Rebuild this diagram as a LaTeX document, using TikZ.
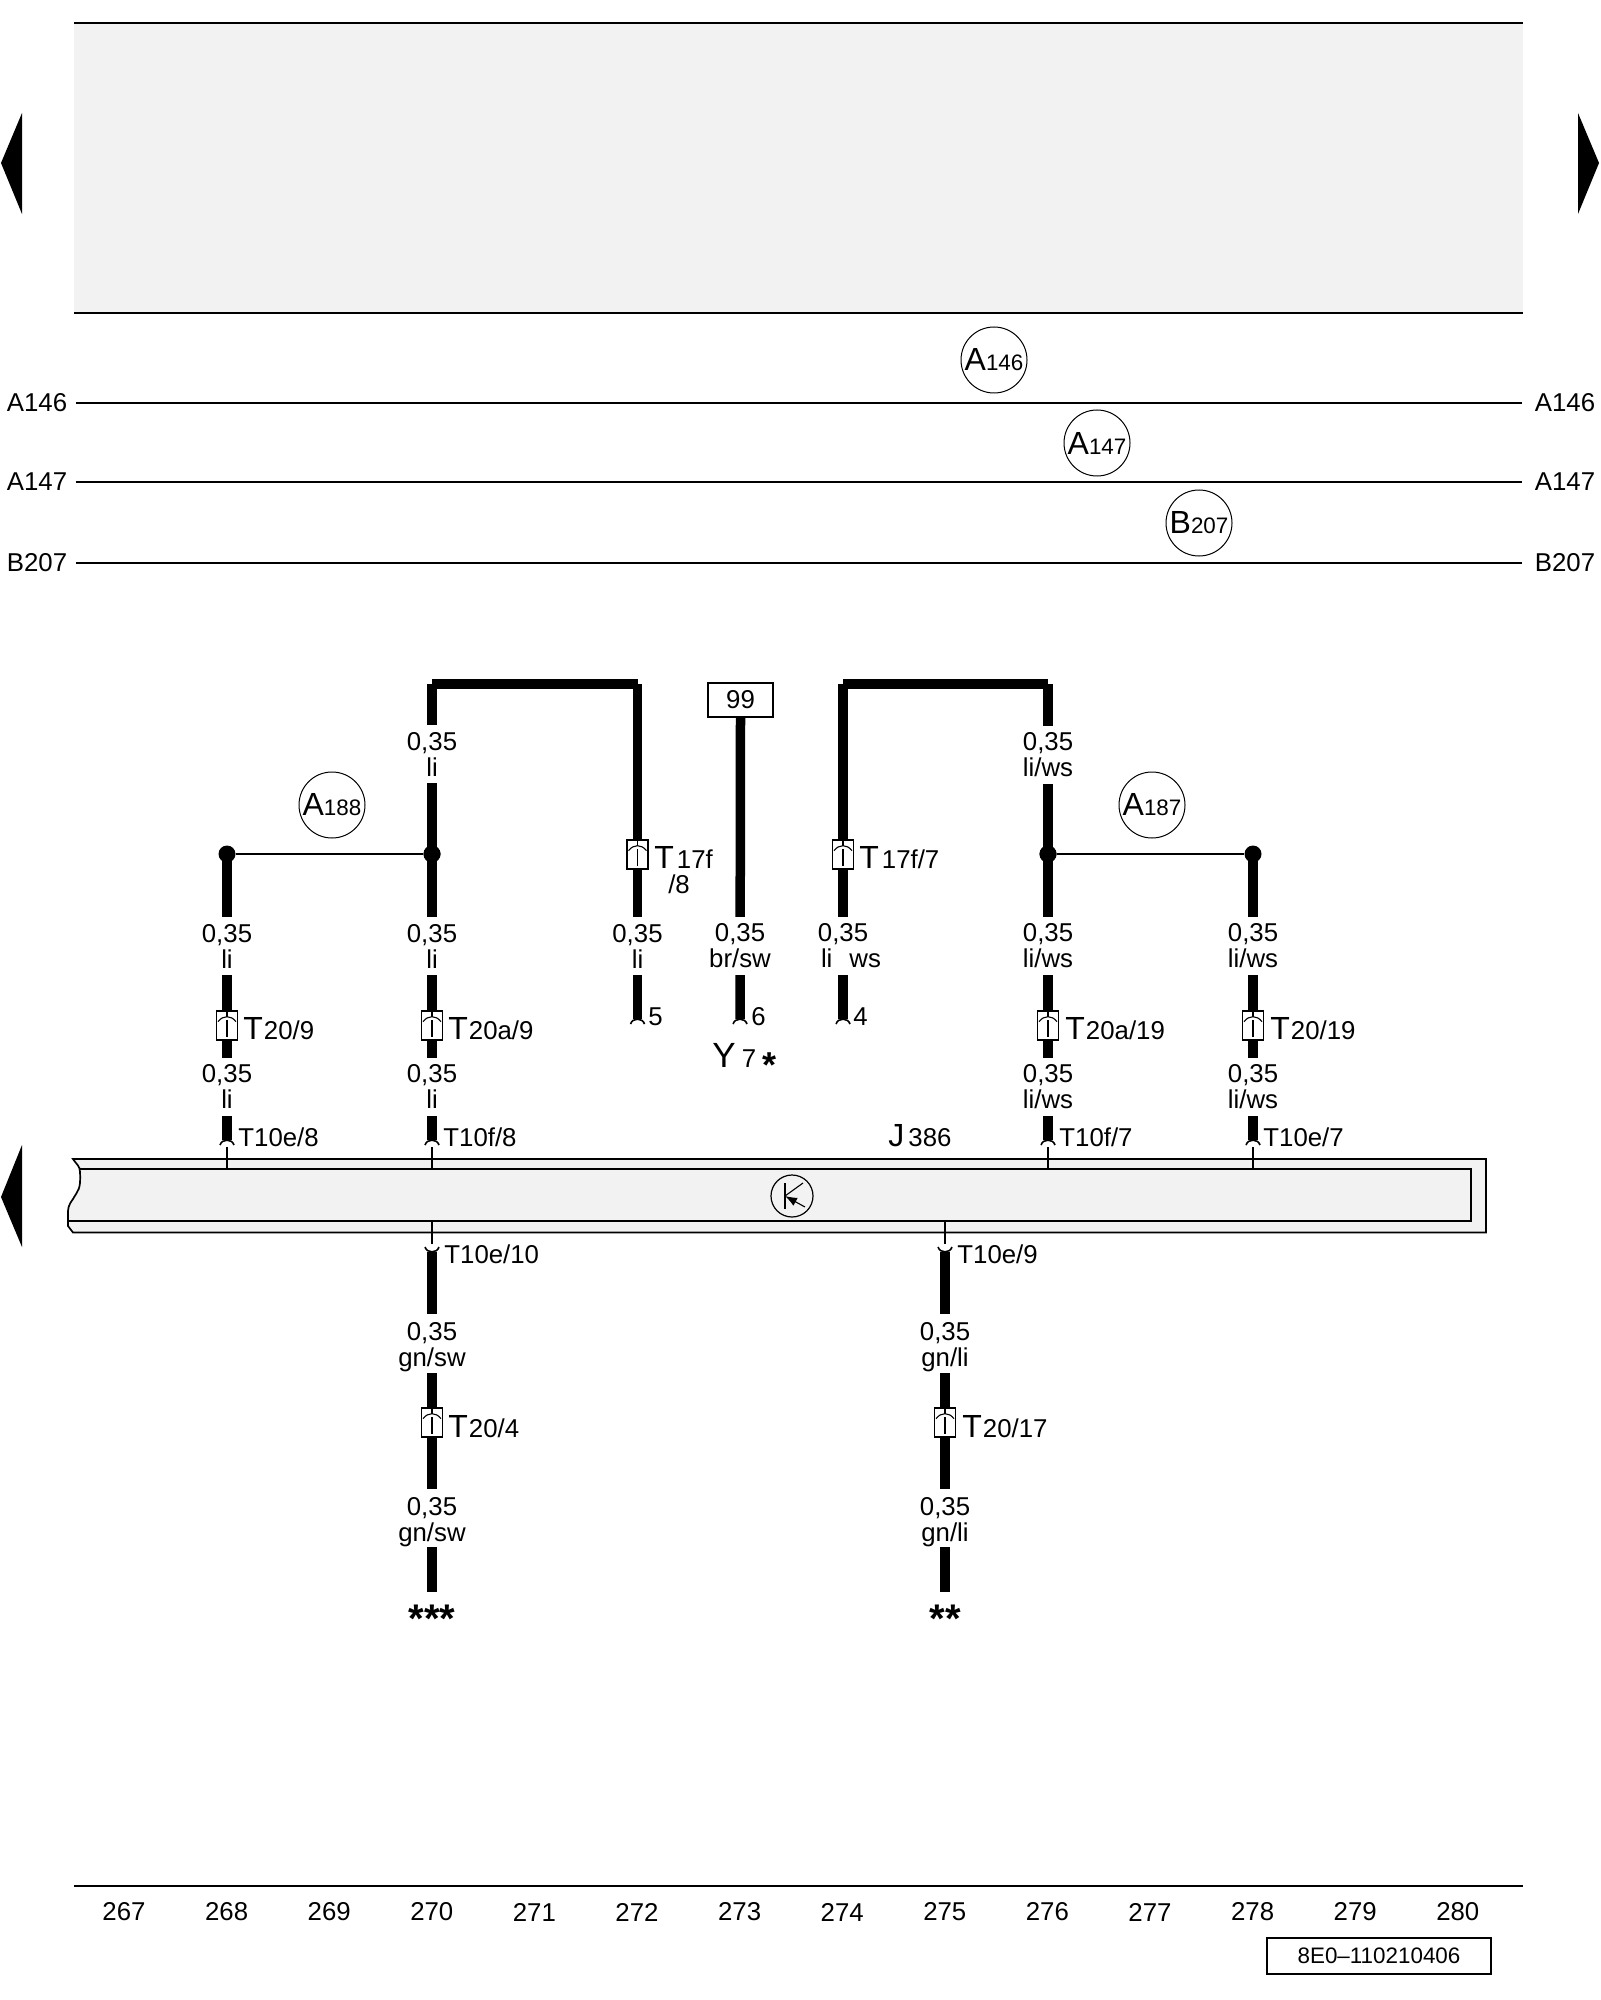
\documentclass[tikz,border=0pt]{standalone}
\usepackage{fontspec}
\setmainfont{Liberation Sans}
\usetikzlibrary{arrows.meta}
\definecolor{panel}{HTML}{F2F2F2}
\newcommand{\bigT}[1]{{\fontsize{16}{16}\selectfont #1}}
\newcommand{\ringlab}[2]{{\fontsize{16}{16}\selectfont #1}{\fontsize{11.2}{12}\selectfont #2}}
\newcommand{\plugsym}[3]{% name, x, y
  \node[plugbox] (#1) at (#2,#3) {};
  \begin{scope}[shift={(#2,#3)}]
    \draw[fine] (-9,-3.8) .. controls (-4,-10.5) and (4,-10.5) .. (9,-3.8);
    \draw[fine] (0,-14.5) -- (0,-8.8);
    \draw[fine] (0,-5.5) -- (0,11);
  \end{scope}}
\newcommand{\hookup}[3]{% name, x, y of arc peak
  \coordinate (#1) at (#2,#3);
  \begin{scope}[shift={(#2,#3)}]
    \fill[white] (-8,0) rectangle (8,7);
    \draw[hookline] (-7,5) .. controls (-5,-1.5) and (5,-1.5) .. (7,5);
  \end{scope}}
\newcommand{\hookdown}[3]{%
  \coordinate (#1) at (#2,#3);
  \begin{scope}[shift={(#2,#3)}]
    \fill[white] (-8,0) rectangle (8,-7);
    \draw[hookline] (-7,-5) .. controls (-5,1.5) and (5,1.5) .. (7,-5);
  \end{scope}}
\tikzset{
  x=0.5pt,y=-0.5pt,
  wire/.style={line width=4.75pt},
  thinwire/.style={line width=0.55pt},
  fine/.style={line width=0.55pt},
  hookline/.style={line width=0.8pt},
  barline/.style={line width=0.85pt},
  txt/.style={font=\fontsize{12.9}{13}\selectfont,inner sep=0pt},
  wlabel/.style={txt,fill=white,align=center,minimum height=29pt,minimum width=5.2pt},
  plainlabel/.style={txt,align=center},
  plugbox/.style={draw,line width=0.6pt,fill=white,minimum width=10.5pt,minimum height=14.5pt,inner sep=0pt},
  dotnode/.style={circle,fill=black,minimum size=8.5pt,inner sep=0pt},
  tag/.style={txt,anchor=base west},
  ring/.style={circle,draw,line width=0.5pt,fill=white,minimum size=33pt,inner sep=0pt,txt},
  busl/.style={txt,inner xsep=4pt},
  busr/.style={txt,inner xsep=6pt},
  nav/.style={fill=black,draw=none},
}
\begin{document}
\begin{tikzpicture}
\useasboundingbox (0,0) rectangle (1600,2000);
% top panel
\fill[panel] (74,23) rectangle (1523,313);
\draw[barline] (74,23) -- (1523,23);
\draw[barline] (74,313) -- (1523,313);
% navigation triangles
\fill[nav] (1,163) -- (22,113) -- (22,214) -- cycle;
\fill[nav] (1599,163) -- (1578,113) -- (1578,214) -- cycle;
\fill[nav] (1,1197) -- (22,1145) -- (22,1247) -- cycle;
% bus lines
\node[busl] (a146l) at (37,403) {A146};
\node[busr] (a146r) at (1565,403) {A146};
\node[busl] (a147l) at (37,482) {A147};
\node[busr] (a147r) at (1565,482) {A147};
\node[busl] (b207l) at (37,563) {B207};
\node[busr] (b207r) at (1565,563) {B207};
\draw[thinwire] (a146l) -- (a146r);
\draw[thinwire] (a147l) -- (a147r);
\draw[thinwire] (b207l) -- (b207r);
\node[ring] (c146) at (994,360) {\ringlab{A}{146}\hspace{1pt}};
\node[ring] (c147) at (1097,443) {\ringlab{A}{147}\hspace{1pt}};
\node[ring] (c207) at (1199,523) {\ringlab{B}{207}\hspace{1pt}};
% component bar
\fill[panel,draw=black,line width=0.85pt] (73,1159) .. controls (77,1165) and (80,1166) .. (80,1172)
  .. controls (81,1190) and (78,1190) .. (73,1199) .. controls (68,1206) and (68,1208) .. (68,1215)
  -- (68,1226) -- (73,1232.5) -- (1486,1232.5) -- (1486,1159) -- cycle;
\draw[barline] (80,1169) -- (1471,1169) -- (1471,1221) -- (68,1221);
% transistor symbol
\node[circle,draw,line width=0.6pt,minimum size=21pt,inner sep=0pt] (tr) at (792,1196) {};
\draw[fine] (785,1183) -- (785,1209);
\draw[fine] (785,1196) -- (803,1183);
\draw[fine,-{Latex[length=6pt,width=4.5pt]}] (805,1207) -- (785,1196);
\node[tag] (j386) at (888,1146) {\bigT{J}\hspace{2pt}386};
% anchors
\coordinate (cA) at (432,684);
\coordinate (cB) at (637.5,684);
\coordinate (cC) at (843,684);
\coordinate (cD) at (1048,684);
\node[dotnode] (d268) at (227,854) {};
\node[dotnode] (d270) at (432,854) {};
\node[dotnode] (d276) at (1048,854) {};
\node[dotnode] (d278) at (1253,854) {};
\draw[thinwire] (d268) -- (d270);
\draw[thinwire] (d276) -- (d278);
\node[draw,line width=0.6pt,fill=white,minimum width=32.5pt,minimum height=17pt,inner sep=0pt,txt] (b99) at (740.5,700) {99};
% end points
\coordinate (e268) at (227,1141);
\coordinate (e270) at (432,1141);
\coordinate (e272) at (637.5,1020);
\coordinate (e273) at (740,1020);
\coordinate (e274) at (843,1020);
\coordinate (e276) at (1048,1141);
\coordinate (e278) at (1253,1141);
\foreach \nm/\xx in {f270/432,f275/945}{
  \coordinate (\nm t) at (\xx,1252);
  \coordinate (\nm a) at (\xx,1314);
  \coordinate (\nm b) at (\xx,1373);
  \coordinate (\nm c) at (\xx,1489);
  \coordinate (\nm d) at (\xx,1547);
  \coordinate (\nm e) at (\xx,1592);
  \draw[wire] (\nm t) -- (\nm a);
  \draw[wire] (\nm b) -- (\nm c);
  \draw[wire] (\nm d) -- (\nm e);}
% wires
\draw[wire] (d268.center) -- (e268);
\draw[wire] (e270) -- (cA);
\draw[wire] (cA) -- (cB);
\draw[wire] (cB) -- (e272);
\draw[wire] (b99.south) -- (e273);
\draw[wire] (e274) -- (cC);
\draw[wire] (cC) -- (cD);
\draw[wire] (cD) -- (e276);
\draw[wire] (d278.center) -- (e278);
% dots redrawn over the wires
\fill (d270) circle (8.5);
\fill (d276) circle (8.5);
% stems into the bar
\foreach \nm/\xx in {s268/227,s270/432,s276/1048,s278/1253}{
  \coordinate (\nm a) at (\xx,1147); \coordinate (\nm b) at (\xx,1169);
  \draw[fine] (\nm a) -- (\nm b);}
\foreach \nm/\xx in {s270d/432,s275d/945}{
  \coordinate (\nm a) at (\xx,1221); \coordinate (\nm b) at (\xx,1244);
  \draw[fine] (\nm a) -- (\nm b);}
% hooks
\hookup{h268}{227}{1140}
\hookup{h270}{432}{1140}
\hookup{h272}{637.5}{1019}
\hookup{h273}{740}{1019}
\hookup{h274}{843}{1019}
\hookup{h276}{1048}{1140}
\hookup{h278}{1253}{1140}
\hookdown{h270d}{432}{1252}
\hookdown{h275d}{945}{1252}
% wire labels
\node[wlabel] (l1) at (432,754) {0,35\\li};
\node[wlabel] (l2) at (1048,755) {0,35\\li/ws};
\node[wlabel] (l3) at (227,946) {0,35\\li};
\node[wlabel] (l4) at (432,946) {0,35\\li};
\node[wlabel] (l5) at (637.5,946) {0,35\\li};
\node[wlabel] (l6) at (740,946) {0,35\\br/sw};
\node[wlabel] (l7x) at (843,946) {};
\node[plainlabel] (l7) at (851,946) {0,35\hspace{8pt}\mbox{}\\li\hspace{8.5pt}ws};
\node[wlabel] (l8) at (1048,946) {0,35\\li/ws};
\node[wlabel] (l9) at (1253,946) {0,35\\li/ws};
\node[wlabel] (l10) at (227,1086.5) {0,35\\li};
\node[wlabel] (l11) at (432,1086.5) {0,35\\li};
\node[wlabel] (l12) at (1048,1086.5) {0,35\\li/ws};
\node[wlabel] (l13) at (1253,1086.5) {0,35\\li/ws};
\node[plainlabel] (l14) at (432,1347) {0,35\\gn/sw};
\node[plainlabel] (l15) at (945,1347) {0,35\\gn/li};
\node[plainlabel] (l16) at (432,1522) {0,35\\gn/sw};
\node[plainlabel] (l17) at (945,1522) {0,35\\gn/li};
% plugs
\plugsym{p1}{227}{1025.5}
\plugsym{p2}{432}{1025.5}
\plugsym{p3}{637.5}{854.5}
\plugsym{p4}{843}{854.5}
\plugsym{p5}{1048}{1025.5}
\plugsym{p6}{1253}{1025.5}
\plugsym{p7}{432}{1422.5}
\plugsym{p8}{945}{1422.5}
% tags
\node[tag] (t1) at (243,1039) {\bigT{T}\hspace{0.5pt}20/9};
\node[tag] (t2) at (448,1039) {\bigT{T}\hspace{0.5pt}20a/9};
\node[tag] (t3) at (654,868) {\bigT{T}\hspace{1.5pt}17f};
\node[txt,anchor=base] (t3b) at (679,893) {/8};
\node[tag] (t4) at (859,868) {\bigT{T}\hspace{1.5pt}17f/7};
\node[tag] (t5) at (1065,1039) {\bigT{T}\hspace{0.5pt}20a/19};
\node[tag] (t6) at (1270,1039) {\bigT{T}\hspace{0.5pt}20/19};
\node[tag] (t7) at (238,1146) {T10e/8};
\node[tag] (t8) at (443,1146) {T10f/8};
\node[tag] (t9) at (1059,1146) {T10f/7};
\node[tag] (t10) at (1263,1146) {T10e/7};
\node[tag] (t11) at (444,1263) {T10e/10};
\node[tag] (t12) at (957,1263) {T10e/9};
\node[tag] (t13) at (448,1437) {\bigT{T}\hspace{0.5pt}20/4};
\node[tag] (t14) at (962,1437) {\bigT{T}\hspace{0.5pt}20/17};
\node[tag] (n5) at (648,1025) {5};
\node[tag] (n6) at (751,1025) {6};
\node[tag] (n4) at (853,1025) {4};
\node[tag] (y7) at (712,1067) {{\fontsize{17.5}{18}\selectfont Y}\hspace{3pt}7};
\node[txt,anchor=base,font=\fontsize{18}{18}\selectfont\bfseries] (y7s) at (769,1077) {*};
\node[txt,anchor=base,font=\fontsize{20}{20}\selectfont\bfseries] (st3) at (432,1632) {***};
\node[txt,anchor=base,font=\fontsize{20}{20}\selectfont\bfseries] (st2) at (945,1632) {**};
\node[ring] (c188) at (332,805) {\ringlab{A}{188}\hspace{1pt}};
\node[ring] (c187) at (1152,805) {\ringlab{A}{187}\hspace{1pt}};
% footer
\draw[barline] (74,1886) -- (1523,1886);
\foreach \n in {267,...,280}{
  \pgfmathsetmacro{\xp}{124+102.6*(\n-267)}
  \node[txt] (col\n) at (\xp,1912) {\n};}
\node[draw,line width=0.7pt,minimum width=112pt,minimum height=18pt,inner sep=0pt,txt,font=\fontsize{11.2}{12}\selectfont] (code) at (1379,1956) {8E0–110210406};
\end{tikzpicture}
\end{document}
